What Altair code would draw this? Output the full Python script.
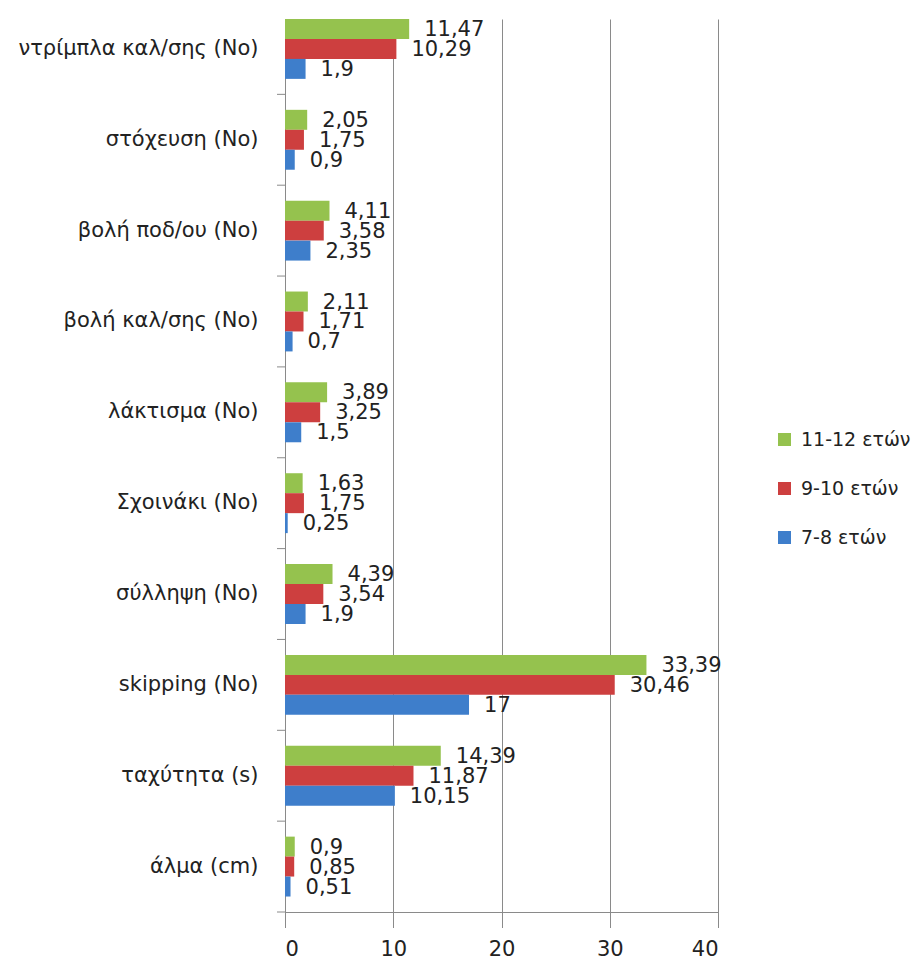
import altair as alt
import pandas as pd

categories = ["ντρίμπλα καλ/σης (No)", "στόχευση (No)", "βολή ποδ/ου (No)",
              "βολή καλ/σης (No)", "λάκτισμα (No)", "Σχοινάκι (No)",
              "σύλληψη (No)", "skipping (No)", "ταχύτητα (s)", "άλμα (cm)"]
series = ["11-12 ετών", "9-10 ετών", "7-8 ετών"]
v_11_12 = [11.47, 2.05, 4.11, 2.11, 3.89, 1.63, 4.39, 33.39, 14.39, 0.9]
v_9_10 = [10.29, 1.75, 3.58, 1.71, 3.25, 1.75, 3.54, 30.46, 11.87, 0.85]
v_7_8 = [1.9, 0.9, 2.35, 0.7, 1.5, 0.25, 1.9, 17, 10.15, 0.51]
colors = ["#95C24E", "#CD3F3F", "#3E7ECB"]
x_ticks = [0, 10, 20, 30, 40]

rows = []
for s, vals in zip(series, [v_11_12, v_9_10, v_7_8]):
    for c, v in zip(categories, vals):
        rows.append({"category": c, "series": s, "value": v,
                     "label": f"{v:g}".replace(".", ",")})
df = pd.DataFrame(rows)
tick_df = pd.DataFrame({"category": categories[1:]})
bottom_df = pd.DataFrame({"category": categories[-1:]})

W, H = 433, 893
GRID = "#8a8a8a"
TXT = "#222222"

y_enc = alt.Y("category:N",
              scale=alt.Scale(domain=categories, range=[-15.5, H],
                              paddingInner=0, paddingOuter=0),
              axis=alt.Axis(title=None, domain=False, ticks=False, grid=False,
                            labelPadding=27, labelFontSize=21, labelLimit=400,
                            labelColor=TXT))
yoff = alt.YOffset("series:N",
                   scale=alt.Scale(domain=series, paddingInner=0, paddingOuter=0.775))
x_enc = alt.X("value:Q", scale=alt.Scale(domain=[0, 40], nice=False),
              axis=alt.Axis(values=x_ticks, title=None, grid=True,
                            gridColor=GRID, gridOpacity=1, domainColor=GRID,
                            tickColor=GRID, tickSize=6, labelFontSize=21,
                            labelPadding=20, labelColor=TXT, format="d"))

bars = alt.Chart(df).mark_bar().encode(
    y=y_enc, yOffset=yoff, x=x_enc,
    color=alt.Color("series:N",
                    scale=alt.Scale(domain=series, range=colors),
                    legend=alt.Legend(title=None, orient="none", legendX=490,
                                      legendY=411, symbolType="square",
                                      symbolSize=169, symbolStrokeWidth=0,
                                      labelFontSize=19, labelColor=TXT,
                                      rowPadding=29, labelOffset=7, padding=0,
                                      labelLimit=300)),
)

texts = alt.Chart(df).mark_text(align="left", baseline="middle", dx=15, dy=1,
                                fontSize=21, color=TXT).encode(
    y=alt.Y("category:N"), yOffset=yoff, x=alt.X("value:Q"), text="label:N")

ticks = alt.Chart(tick_df).mark_rule(color=GRID).encode(
    y=alt.Y("category:N", bandPosition=0), x=alt.value(-8), x2=alt.value(0))

bottom_tick = alt.Chart(bottom_df).mark_rule(color=GRID).encode(
    y=alt.Y("category:N", bandPosition=1), x=alt.value(-8), x2=alt.value(0))

chart = alt.layer(bars, texts, ticks, bottom_tick).properties(
    width=W, height=H,
    autosize=alt.AutoSizeParams(type="none"),
    padding={"left": 277, "top": 11, "right": 193, "bottom": 48},
).configure(font="DejaVu Sans").configure_view(stroke=None)

chart.save("out.html", embed_options={"renderer": "svg", "actions": False})
